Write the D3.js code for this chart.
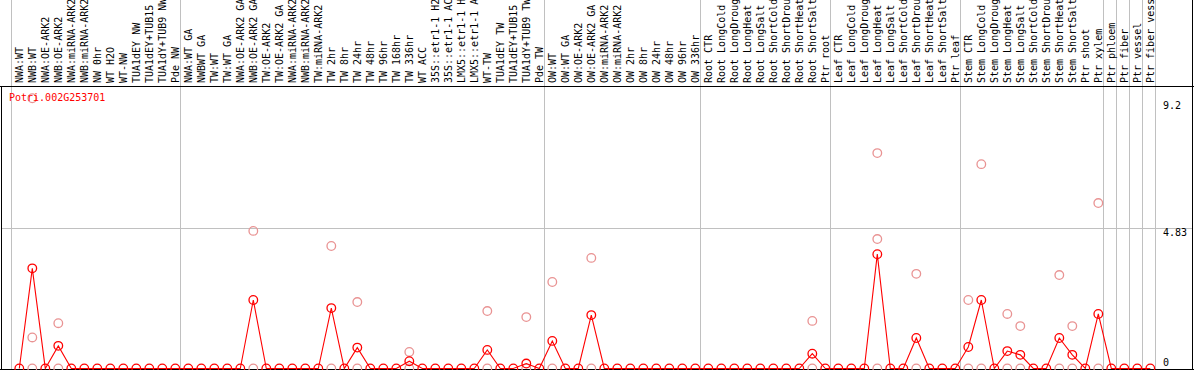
<!DOCTYPE html>
<html>
<head>
<meta charset="utf-8">
<script src="https://d3js.org/d3.v7.min.js"></script>
<style>
  body { margin: 0; background: #fff; }
  text { font-family: "DejaVu Sans Mono", monospace; font-size: 10px; }
</style>
</head>
<body>
<div id="chart"></div>
<script>
// sample labels, one per column
const samples = [
  "NWA:WT", "NWB:WT", "NWA:OE-ARK2", "NWB:OE-ARK2", "NWA:miRNA-ARK2", "NWB:miRNA-ARK2",
  "NW 0hr", "WT H2O", "WT-NW", "TUA1dEY NW", "TUA1dEY+TUB15 NW", "TUA1dY+TUB9 NW", "Pde NW",
  "NWA:WT GA", "NWBWT GA", "TW:WT", "TW:WT GA", "NWA:OE-ARK2 GA", "NWB:OE-ARK2 GA",
  "TW:OE-ARK2", "TW:OE-ARK2 GA", "NWA:miRNA-ARK2", "NWB:miRNA-ARK2", "TW:miRNA-ARK2",
  "TW 2hr", "TW 8hr", "TW 24hr", "TW 48hr", "TW 96hr", "TW 168hr", "TW 336hr", "WT ACC",
  "35S::etr1-1 H2O", "35S::etr1-1 ACC", "LMX5::etr1-1 H2O", "LMX5::etr1-1 ACC", "WT-TW",
  "TUA1dEY TW", "TUA1dEY+TUB15 TW", "TUA1dY+TUB9 TW", "Pde TW",
  "OW:WT", "OW:WT GA", "OW:OE-ARK2", "OW:OE-ARK2 GA", "OW:miRNA-ARK2", "OW:miRNA-ARK2",
  "OW 2hr", "OW 8hr", "OW 24hr", "OW 48hr", "OW 96hr", "OW 336hr",
  "Root CTR", "Root LongCold", "Root LongDrought", "Root LongHeat", "Root LongSalt",
  "Root ShortCold", "Root ShortDrought", "Root ShortHeat", "Root ShortSalt", "Ptr root",
  "Leaf CTR", "Leaf LongCold", "Leaf LongDrought", "Leaf LongHeat", "Leaf LongSalt",
  "Leaf ShortCold", "Leaf ShortDrought", "Leaf ShortHeat", "Leaf ShortSalt", "Ptr leaf",
  "Stem CTR", "Stem LongCold", "Stem LongDrought", "Stem LongHeat", "Stem LongSalt",
  "Stem ShortCold", "Stem ShortDrought", "Stem ShortHeat", "Stem ShortSalt", "Ptr shoot",
  "Ptr xylem", "Ptr phloem", "Ptr fiber", "Ptr vessel", "Ptr fiber vessel"
];

// mean expression per column (red line)
const means = [
  0, 3.45, 0, 0.78, 0, 0, 0, 0, 0, 0, 0, 0, 0,
  0, 0, 0, 0, 0, 2.36, 0, 0, 0, 0, 0, 2.08, 0, 0.72, 0, 0, 0, 0.25, 0,
  0, 0, 0, 0, 0.64, 0, 0, 0.17, 0,
  0.95, 0, 0, 1.84, 0, 0, 0, 0, 0, 0, 0, 0,
  0, 0, 0, 0, 0, 0, 0, 0, 0.51, 0,
  0, 0, 0, 3.94, 0, 0, 1.05, 0, 0, 0,
  0.74, 2.36, 0, 0.6, 0.47, 0, 0, 1.05, 0.47, 0, 1.88,
  0, 0, 0, 0
];

// replicate values (pink circles): column index and value
const repCol = [1, 1, 1, 3, 3, 18, 18, 24, 24, 26, 26, 30, 30, 36, 36, 39, 39, 41, 41,
  44, 44, 61, 61, 66, 66, 66, 69, 69, 73, 73, 74, 74, 76, 76, 77, 77, 80, 80, 81, 81, 83, 83];
const repVal = [9.31, 1.07, 0, 1.56, 0, 4.74, 0, 4.22, 0, 2.29, 0, 0.57, 0, 1.98, 0, 1.77, 0, 2.98, 0,
  3.81, 0, 1.64, 0, 7.42, 4.46, 0, 3.26, 0, 2.36, 0, 7.04, 0, 1.88, 0, 1.46, 0, 3.22, 0, 1.46, 0, 5.7, 0];

// columns where a grey separator starts
const groupBreaks = [0, 13, 41, 53, 63, 73, 84, 85, 86, 87, 88];
const axisTicks = [9.2, 4.83, 0];
const geneName = "Potri.002G253701";

const width = 1194, height = 370;
const headerBottom = 86.5, plotBottom = 369.5;

const svg = d3.select("#chart").append("svg")
  .attr("width", width)
  .attr("height", height);

svg.append("rect").attr("width", width).attr("height", height).attr("fill", "#fff");

const x = d3.scaleBand()
  .domain(d3.range(samples.length))
  .range([12.8, 12.8 + samples.length * 13]);
const cx = i => x(i) + x.bandwidth() / 2;

const y = d3.scaleLinear().domain([0, 4.83]).range([368.5, 228.3]);

// grey separators
svg.append("g").selectAll("line")
  .data(groupBreaks)
  .enter().append("line")
  .attr("x1", d => Math.round(x(0) + d * 13 - 1.5) + 0.5)
  .attr("x2", d => Math.round(x(0) + d * 13 - 1.5) + 0.5)
  .attr("y1", 0)
  .attr("y2", plotBottom)
  .attr("stroke", "#c0c0c0");

// horizontal grid at middle tick
svg.append("line")
  .attr("x1", 1).attr("x2", width - 1)
  .attr("y1", Math.round(y(4.83)) + 0.5).attr("y2", Math.round(y(4.83)) + 0.5)
  .attr("stroke", "#c0c0c0");

// frame
const frame = svg.append("g").attr("stroke", "#000").attr("shape-rendering", "crispEdges");
frame.append("line").attr("x1", 0).attr("x2", width).attr("y1", headerBottom).attr("y2", headerBottom);
frame.append("line").attr("x1", 0).attr("x2", width).attr("y1", plotBottom).attr("y2", plotBottom);
frame.append("line").attr("x1", 1.5).attr("x2", 1.5).attr("y1", headerBottom).attr("y2", plotBottom);
frame.append("line").attr("x1", width - 1.5).attr("x2", width - 1.5).attr("y1", 0).attr("y2", height);

// column labels, rotated
svg.append("g").selectAll("text")
  .data(samples)
  .enter().append("text")
  .attr("transform", (d, i) => `translate(${cx(i) + 3.5},83) rotate(-90)`)
  .attr("fill", "#000")
  .text(d => d);

// right axis labels
svg.append("g").selectAll("text")
  .data(axisTicks)
  .enter().append("text")
  .attr("x", 1163)
  .attr("y", d => d === 0 ? y(d) - 3 : y(d) + 8)
  .attr("fill", "#000")
  .text(d => d);

// replicate points
svg.append("g").selectAll("circle")
  .data(repCol)
  .enter().append("circle")
  .attr("cx", d => cx(d))
  .attr("cy", (d, i) => y(repVal[i]))
  .attr("r", 4.3)
  .attr("fill", "none")
  .attr("stroke", "#e99393")
  .attr("stroke-width", 1.3);

// mean line
const line = d3.line()
  .x((d, i) => cx(i))
  .y(d => y(d));

svg.append("path")
  .datum(means)
  .attr("d", line)
  .attr("fill", "none")
  .attr("stroke", "#ff0000")
  .attr("stroke-width", 1.1);

svg.append("g").selectAll("circle")
  .data(means)
  .enter().append("circle")
  .attr("cx", (d, i) => cx(i))
  .attr("cy", d => y(d))
  .attr("r", 4.3)
  .attr("fill", "none")
  .attr("stroke", "#ff0000")
  .attr("stroke-width", 1.3);

// gene name
svg.append("text")
  .attr("x", 9)
  .attr("y", 101)
  .attr("fill", "#ff0000")
  .text(geneName);
</script>
</body>
</html>
